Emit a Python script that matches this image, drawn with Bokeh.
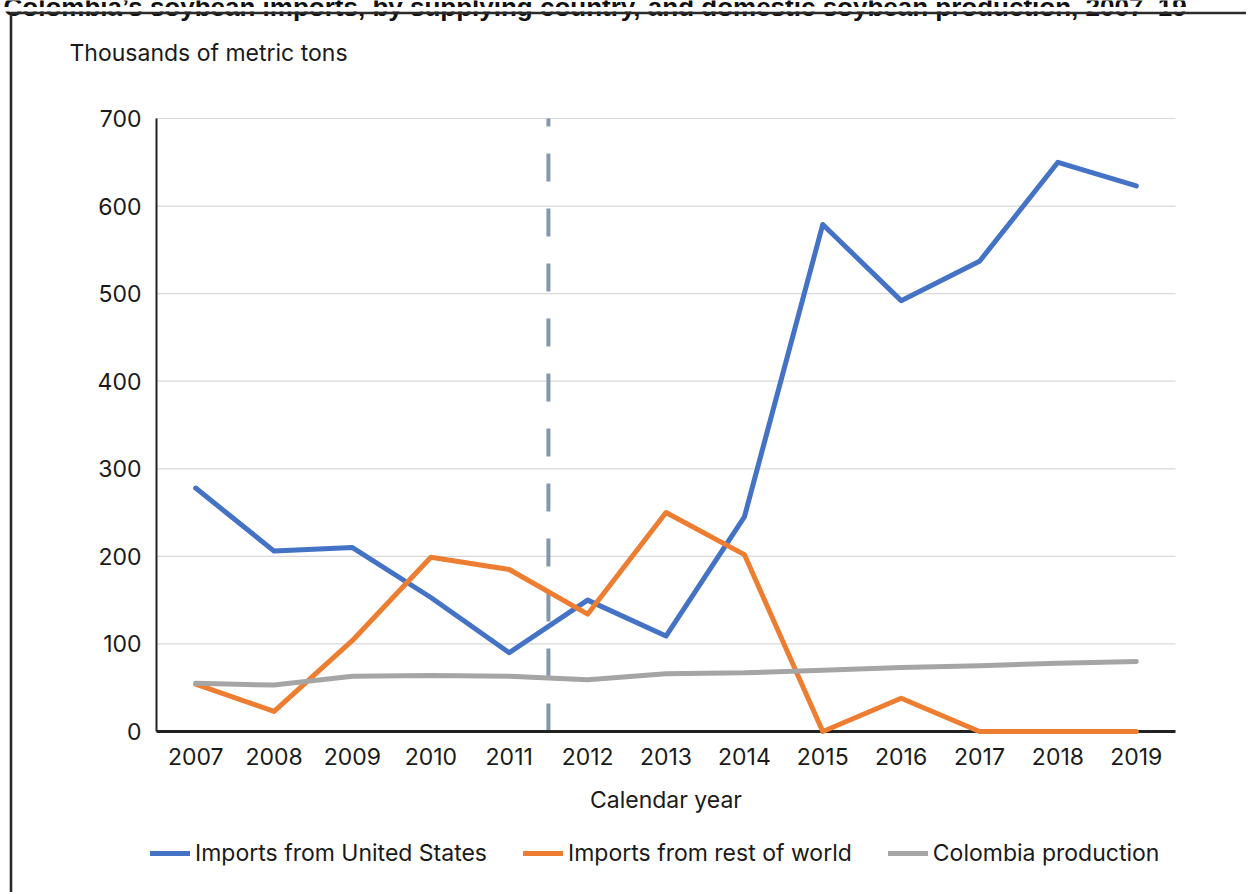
from bokeh.plotting import figure
from bokeh.models import Legend, LegendItem, Range1d, FixedTicker, Label, BoxAnnotation
from bokeh.embed import file_html
from bokeh.resources import INLINE

years = [2007, 2008, 2009, 2010, 2011, 2012, 2013, 2014, 2015, 2016, 2017, 2018, 2019]
imports_us = [278, 206, 210, 153, 90, 150, 109, 245, 579, 492, 537, 650, 623]
imports_row = [54, 23, 104, 199, 185, 134, 250, 202, 0, 38, 0, 0, 0]
colombia_prod = [55, 53, 63, 64, 63, 59, 66, 67, 70, 73, 75, 78, 80]
y_ticks = [0, 100, 200, 300, 400, 500, 600, 700]
policy_year = 2011.5

TITLE = "Colombia\u2019s soybean imports, by supplying country, and domestic soybean production, 2007\u201319"
FONT = "Inter"
TXT = "#1a1a1a"
FS = "23px"

# layout geometry (pixels) of the page
FW, FH = 1246, 892
PLOT_L, PLOT_R, PLOT_T, PLOT_B = 156, 1175, 118, 731   # plot area
X0, X1 = years[0] - 0.5, years[-1] + 0.5
Y0, Y1 = 0, 700
xs = (X1 - X0) / (PLOT_R - PLOT_L)
ys = (Y1 - Y0) / (PLOT_B - PLOT_T)


def px_x(sx):
    return X0 + (sx - PLOT_L) * xs


def px_y(sy):
    return Y1 + (PLOT_T - sy) * ys


p = figure(frame_width=FW, frame_height=FH, output_backend="svg", toolbar_location=None,
           x_range=Range1d(px_x(0), px_x(FW)), y_range=Range1d(px_y(FH), px_y(0)),
           min_border_left=0, min_border_right=0, min_border_top=0, min_border_bottom=0)
p.outline_line_color = None
p.background_fill_color = "white"
p.border_fill_color = "white"
p.xgrid.visible = False
p.ygrid.visible = False

# horizontal grid lines across the plot area
p.segment(x0=[X0] * len(y_ticks), x1=[X1] * len(y_ticks), y0=y_ticks, y1=y_ticks,
          line_color="#d9d9d9", line_width=1.2)

# axes fixed at the plot-area edges
p.xaxis.ticker = FixedTicker(ticks=years)
p.yaxis.ticker = FixedTicker(ticks=y_ticks)
p.xaxis.fixed_location = Y0
p.yaxis.fixed_location = X0
p.xaxis.bounds = (X0, X1)
p.yaxis.bounds = (Y0, Y1)
for ax in (p.xaxis[0], p.yaxis[0]):
    ax.major_tick_line_color = None
    ax.minor_tick_line_color = None
    ax.major_label_text_font = FONT
    ax.major_label_text_font_size = FS
    ax.major_label_text_color = TXT
    ax.axis_line_color = "#222222"
p.xaxis.axis_line_width = 3
p.yaxis.axis_line_width = 2
p.xaxis.major_label_standoff = 10
p.yaxis.major_label_standoff = 9
p.xaxis.axis_label = "Calendar year"
p.xaxis.axis_label_text_font = FONT
p.xaxis.axis_label_text_font_size = FS
p.xaxis.axis_label_text_font_style = "normal"
p.xaxis.axis_label_text_color = TXT
p.xaxis.axis_label_standoff = 18

# dashed vertical line
p.segment(x0=[policy_year], y0=[Y0], x1=[policy_year], y1=[Y1],
          line_color="#8497B0", line_width=4, line_dash="28 27")

kw = dict(line_width=5, line_cap="round", line_join="round", level="overlay")
r_us = p.line(years, imports_us, line_color="#4472C4", **kw)
r_row = p.line(years, imports_row, line_color="#ED7D31", **kw)
r_co = p.line(years, colombia_prod, line_color="#A5A5A5", **kw)

legend = Legend(items=[LegendItem(label="Imports from United States", renderers=[r_us]),
                       LegendItem(label="Imports from rest of world", renderers=[r_row]),
                       LegendItem(label="Colombia production", renderers=[r_co])],
                orientation="horizontal", location=(150, 25),
                label_text_font=FONT, label_text_font_size=FS, label_text_color=TXT,
                glyph_width=40, glyph_height=24, label_height=24, label_standoff=5,
                spacing=36, padding=0, margin=0,
                border_line_color=None, background_fill_alpha=0)
p.add_layout(legend)

# y-axis unit caption
p.add_layout(Label(x=px_x(69), y=px_y(52), text="Thousands of metric tons",
                   text_font=FONT, text_font_size=FS, text_color=TXT,
                   text_baseline="middle", text_align="left"))

# chart title, cropped at the top of the page as in the source
p.add_layout(Label(x=px_x(3), y=px_y(6), text=TITLE,
                   text_font="Liberation Sans", text_font_size="26px", text_font_style="bold",
                   text_color="#111111", text_baseline="alphabetic", text_align="left"))
p.add_layout(BoxAnnotation(left=px_x(-20), right=px_x(FW + 20), top=px_y(6.5), bottom=px_y(11),
                           fill_color="white", fill_alpha=1, line_color=None, level="overlay"))

# frame box around the chart
p.add_layout(BoxAnnotation(left=px_x(10.5), top=px_y(12.5), right=px_x(FW + 40), bottom=px_y(FH + 40),
                           fill_alpha=0, line_color="#2b2b2b", line_alpha=1, line_width=2.6,
                           level="overlay"))

open("out.html", "w").write(file_html(p, INLINE))
